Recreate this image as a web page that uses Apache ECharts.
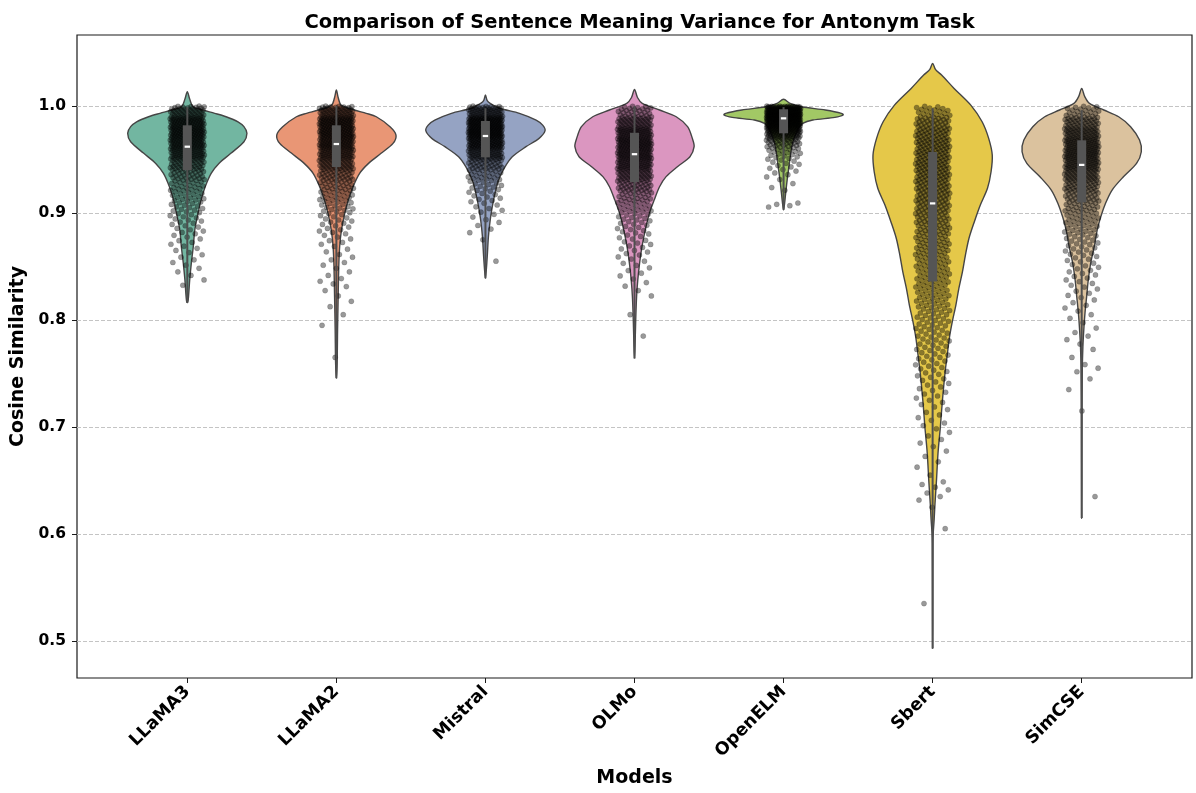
<!DOCTYPE html>
<html><head><meta charset="utf-8">
<script src="https://cdn.jsdelivr.net/npm/echarts@6/dist/echarts.min.js"></script>
<style>html,body{margin:0;padding:0;background:#fff}#c{width:1196px;height:793px}</style>
</head><body><div id="c"></div>
<script>
// ---------------- data ----------------
const models = ['LLaMA3', 'LLaMA2', 'Mistral', 'OLMo', 'OpenELM', 'Sbert', 'SimCSE'];
const colors = ['#72b6a1', '#e99675', '#95a3c3', '#db96c0', '#a2c865', '#e5c849', '#dbc29e'];
const yTicks = [0.5, 0.6, 0.7, 0.8, 0.9, 1.0];

// inner box statistics
const q1          = [0.940, 0.943, 0.952, 0.929, 0.9745, 0.836, 0.910];
const medians     = [0.962, 0.9645, 0.972, 0.955, 0.9885, 0.909, 0.945];
const q3          = [0.982, 0.982, 0.986, 0.975, 0.997, 0.957, 0.968];
const whiskerHigh = [0.999, 1.000, 0.998, 1.000, 0.999, 0.998, 0.996];
const whiskerLow  = [0.816, 0.7455, 0.839, 0.764, 0.903, 0.493, 0.615];

// violin outlines: [cosine similarity, relative density (1 = widest)]
const violinLLaMA3 = [[1.0134,0],[1.0065,0.04],[0.9993,0.095],[0.9963,0.26],[0.9932,0.46],[0.990,0.65],[0.9853,0.85],[0.9807,0.95],[0.9745,1.0],[0.9666,0.95],[0.9558,0.73],[0.9464,0.53],[0.9371,0.40],[0.9246,0.30],[0.9121,0.23],[0.8997,0.18],[0.8841,0.125],[0.8685,0.10],[0.853,0.067],[0.8374,0.04],[0.8187,0.015],[0.8162,0]];
const violinLLaMA2 = [[1.015,0],[1.008,0.03],[1.0009,0.08],[0.9963,0.3],[0.9932,0.5],[0.990,0.67],[0.9807,0.9],[0.9729,1.0],[0.9651,0.95],[0.9558,0.75],[0.9464,0.54],[0.9371,0.39],[0.9246,0.28],[0.9121,0.2],[0.8997,0.14],[0.8841,0.085],[0.8685,0.055],[0.8498,0.04],[0.8218,0.03],[0.7907,0.02],[0.7598,0.013],[0.7455,0]];
const violinMistral = [[1.0103,0],[1.005,0.03],[1.0025,0.08],[0.9979,0.24],[0.9932,0.57],[0.9869,0.85],[0.9822,0.96],[0.977,1.0],[0.9698,0.9],[0.962,0.68],[0.9526,0.45],[0.9433,0.33],[0.9308,0.22],[0.9184,0.16],[0.9059,0.115],[0.8935,0.08],[0.8779,0.05],[0.8592,0.03],[0.839,0]];
const violinOLMo = [[1.0156,0],[1.008,0.05],[1.0025,0.13],[0.9963,0.42],[0.990,0.7],[0.9807,0.89],[0.9698,0.97],[0.962,1.0],[0.9526,0.93],[0.9433,0.72],[0.934,0.53],[0.9246,0.42],[0.9121,0.33],[0.8997,0.25],[0.8841,0.18],[0.8685,0.125],[0.853,0.085],[0.8374,0.055],[0.8218,0.035],[0.7994,0.02],[0.7776,0.01],[0.7642,0]];
const violinOpenELM = [[1.0063,0],[1.0025,0.11],[0.9993,0.3],[0.9963,0.7],[0.9932,0.97],[0.9916,1.0],[0.9894,0.86],[0.9869,0.49],[0.9838,0.32],[0.9792,0.25],[0.9745,0.21],[0.9651,0.15],[0.9558,0.12],[0.9433,0.09],[0.9308,0.06],[0.9184,0.035],[0.9028,0]];
const violinSbert = [[1.0399,0],[1.034,0.05],[1.029,0.15],[1.0165,0.36],[1.0009,0.64],[0.9853,0.83],[0.9698,0.94],[0.9542,1.0],[0.9386,0.98],[0.9231,0.92],[0.9075,0.8],[0.8919,0.7],[0.8764,0.61],[0.8607,0.55],[0.8451,0.5],[0.8296,0.44],[0.814,0.39],[0.7984,0.33],[0.7829,0.28],[0.7673,0.245],[0.7517,0.21],[0.7221,0.16],[0.7003,0.13],[0.6754,0.09],[0.6505,0.065],[0.6287,0.04],[0.6131,0.025],[0.6007,0.01],[0.5913,0.005],[0.5383,0.002],[0.4932,0]];
const violinSimCSE = [[1.0165,0],[1.009,0.05],[1.0025,0.13],[0.9963,0.37],[0.990,0.62],[0.9807,0.82],[0.9682,0.97],[0.9573,1.0],[0.9464,0.92],[0.9339,0.7],[0.9215,0.51],[0.9091,0.4],[0.8965,0.32],[0.8841,0.26],[0.8685,0.21],[0.853,0.15],[0.8374,0.11],[0.8218,0.083],[0.8063,0.055],[0.7907,0.035],[0.775,0.02],[0.7533,0.01],[0.7065,0.004],[0.6147,0]];

// individual points, read as counts per bin (first bin lower edge, bin width)
const binStart = [0.83, 0.76, 0.85, 0.78, 0.905, 0.53, 0.63];
const binWidth = [0.01, 0.01, 0.01, 0.01, 0.005, 0.01, 0.01];
const countsLLaMA3 = [2,3,4,5,6,8,10,13,16,20,28,40,58,68,75,70,45];
const countsLLaMA2 = [1,0,0,1,1,2,2,4,3,4,4,6,8,10,14,18,24,32,45,58,70,75,75,50];
const countsMistral = [1,0,1,3,4,6,9,13,20,32,55,80,100,95,55];
const countsOLMo = [1,0,1,0,2,3,4,5,7,8,10,13,17,23,32,45,58,65,68,62,45,25];
const countsOpenELM = [4,0,0,2,1,2,3,4,5,7,9,14,20,35,50,70,85,90,75];
const countsSbert = [1,0,0,0,0,0,0,1,0,1,3,4,1,2,2,3,3,4,4,5,6,7,8,9,10,11,12,13,15,16,17,18,19,21,22,24,26,28,30,31,33,34,34,34,32,28,18];
const countsSimCSE = [1,0,0,0,0,0,0,0,1,0,1,1,3,1,2,3,2,3,4,5,6,7,8,10,12,15,18,22,28,36,45,55,60,58,50,38,20];

// ---------------- build ----------------
const violins = [violinLLaMA3, violinLLaMA2, violinMistral, violinOLMo, violinOpenELM, violinSbert, violinSimCSE];
const counts = [countsLLaMA3, countsLLaMA2, countsMistral, countsOLMo, countsOpenELM, countsSbert, countsSimCSE];
const HALF = 0.4, JIT = 0.115, XMIN = -0.74, XMAX = 6.74, YMIN = 0.4654, YMAX = 1.0664;

const points = [];
let n = 0;
counts.forEach((arr, i) => {
  arr.forEach((c, b) => {
    const lo = binStart[i] + b * binWidth[i];
    for (let k = 0; k < c; k++) {
      const v = lo + binWidth[i] * (k + 0.5) / c;
      const u = ((n * 0.6180339887 + 0.37) % 1);
      points.push([i + (2 * u - 1) * JIT, v]);
      n++;
    }
  });
});

const chart = echarts.init(document.getElementById('c'), null, {renderer: 'canvas'});
const FONT = 'DejaVu Sans';
chart.setOption({
  animation: false,
  backgroundColor: '#fff',
  title: {
    text: 'Comparison of Sentence Meaning Variance for Antonym Task',
    left: 634.5, top: 8, textAlign: 'center',
    textStyle: {fontFamily: FONT, fontWeight: 'bold', fontSize: 19.5, color: '#000'}
  },
  grid: {left: 77, right: 4, top: 35, bottom: 115, show: true, borderColor: '#1a1a1a', borderWidth: 1.2, backgroundColor: 'transparent'},
  xAxis: {
    type: 'value', min: XMIN, max: XMAX,
    name: 'Models', nameLocation: 'middle', nameGap: 91,
    nameTextStyle: {fontFamily: FONT, fontWeight: 'bold', fontSize: 19, color: '#000'},
    axisLine: {show: false, onZero: false},
    splitLine: {show: false},
    axisTick: {show: true, length: 5, lineStyle: {color: '#1a1a1a', width: 1}, customValues: [0,1,2,3,4,5,6]},
    axisLabel: {customValues: [0,1,2,3,4,5,6], rotate: 45, margin: 11,
      formatter: v => models[Math.round(v)],
      fontFamily: FONT, fontWeight: 'bold', fontSize: 17.5, color: '#000'}
  },
  yAxis: {
    type: 'value', min: YMIN, max: YMAX,
    name: 'Cosine Similarity', nameLocation: 'middle', nameGap: 48, nameRotate: 90,
    nameTextStyle: {fontFamily: FONT, fontWeight: 'bold', fontSize: 19, color: '#000'},
    axisLine: {show: false, onZero: false},
    splitLine: {show: false},
    axisTick: {show: true, length: 5, lineStyle: {color: '#1a1a1a', width: 1}, customValues: yTicks},
    axisLabel: {customValues: yTicks, margin: 11, formatter: v => v.toFixed(1),
      fontFamily: FONT, fontWeight: 'bold', fontSize: 15.5, color: '#000'}
  },
  series: [
    { // dashed grid lines
      type: 'custom', z: 0, silent: true,
      data: yTicks.map(v => [v]),
      renderItem: (params, api) => {
        const v = api.value(0);
        const a = api.coord([XMIN, v]), b = api.coord([XMAX, v]);
        return {type: 'line', shape: {x1: a[0], y1: Math.round(a[1]) + 0.5, x2: b[0], y2: Math.round(b[1]) + 0.5},
          style: {stroke: '#c4c4c4', lineWidth: 1, lineDash: [4, 2]}};
      }
    },
    { // violins
      type: 'custom', z: 1, silent: true,
      data: models.map((m, i) => [i]),
      renderItem: (params, api) => {
        const i = params.dataIndex;
        const prof = violins[i];
        const right = prof.map(([v, w]) => api.coord([i + w * HALF, v]));
        const left = prof.slice(1, -1).reverse().map(([v, w]) => api.coord([i - w * HALF, v]));
        return {type: 'polygon', shape: {points: right.concat(left), smooth: 0.3},
          style: {fill: colors[i], stroke: '#454545', lineWidth: 1.4}};
      }
    },
    { // jittered points
      type: 'scatter', z: 2, silent: true,
      data: points, symbolSize: 5.2,
      itemStyle: {color: 'rgba(0,0,0,0.5)', borderColor: 'rgba(0,0,0,0.3)', borderWidth: 0.6}
    },
    { // inner boxes
      type: 'custom', z: 3, silent: true,
      data: models.map((m, i) => [i]),
      renderItem: (params, api) => {
        const i = params.dataIndex;
        const top = api.coord([i, whiskerHigh[i]]), bot = api.coord([i, whiskerLow[i]]);
        const b1 = api.coord([i, q3[i]]), b2 = api.coord([i, q1[i]]);
        const md = api.coord([i, medians[i]]);
        const cx = top[0];
        return {type: 'group', children: [
          {type: 'line', shape: {x1: cx, y1: top[1], x2: cx, y2: bot[1]}, style: {stroke: '#4f4f4f', lineWidth: 2}},
          {type: 'rect', shape: {x: cx - 4.5, y: b1[1], width: 9, height: b2[1] - b1[1]}, style: {fill: '#555555'}},
          {type: 'rect', shape: {x: cx - 2.7, y: md[1] - 1.1, width: 5.4, height: 2.2}, style: {fill: '#ffffff'}}
        ]};
      }
    }
  ]
});
</script></body></html>
